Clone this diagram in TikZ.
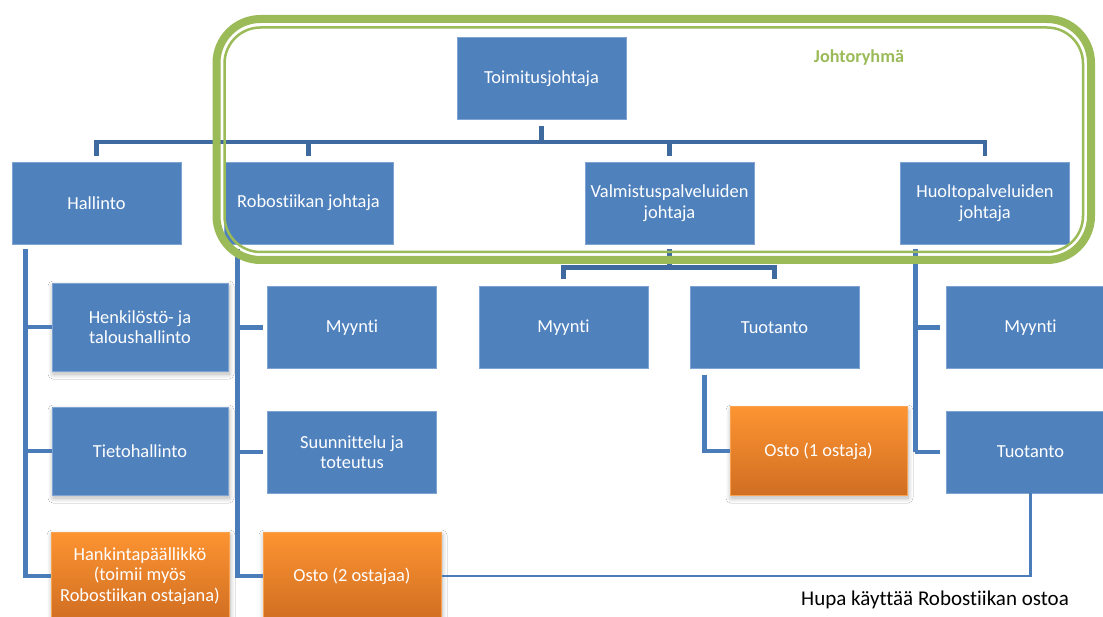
\documentclass[tikz,border=0pt]{standalone}
\usepackage{fontspec}
\setmainfont{Carlito}[Ligatures={NoCommon,NoContextual}]
\usetikzlibrary{shadows.blur}
\definecolor{boxblue}{HTML}{4F81BD}
\definecolor{boxedge}{HTML}{7FA3D2}
\definecolor{barblue}{HTML}{3F6A9F}
\definecolor{lineblue}{HTML}{4A7CB9}
\definecolor{ringgreen}{HTML}{9BBB59}
\definecolor{orangetop}{HTML}{FD9432}
\definecolor{orangebot}{HTML}{D06E22}
\definecolor{orangeedge}{HTML}{F9A24F}
\tikzset{
  boxtext/.style={font=\fontsize{18.4}{20.5}\selectfont, text=white, align=center, inner sep=0pt},
  box/.style={boxtext, fill=boxblue, draw=boxedge, line width=0.8pt,
    minimum width=169, minimum height=82},
  widebox/.style={box, minimum width=176, minimum height=88},
  shadowed/.style={blur shadow={shadow xshift=1pt, shadow yshift=-3pt,
    shadow blur radius=5pt, shadow blur steps=10, shadow opacity=30}},
  obox/.style={boxtext, top color=orangetop, bottom color=orangebot,
    draw=orangeedge, line width=1pt, minimum width=177, minimum height=88, shadowed},
  barline/.style={draw=barblue, line width=4.6pt},
  vline/.style={draw=lineblue, line width=4.8pt},
  thinline/.style={draw=lineblue, line width=2.4pt},
}
\begin{document}
\begin{tikzpicture}[x=1pt, y=-1pt]
\clip (0,0) rectangle (1103,617);
\fill[white] (0,0) rectangle (1103,617);

% top level and managers
\node[box] (toim) at (541.5,78.5) {Toimitusjohtaja};
\node[box] (hal) at (96.5,203) {Hallinto};
\node[box] (rob) at (308.5,203) {Robostiikan johtaja};
\node[box] (val) at (669.5,203) {Valmistuspalveluiden\\johtaja};
\node[box] (huo) at (985,203) {Huoltopalveluiden\\johtaja};

% administration column
\node[widebox, shadowed] (henk) at (140,327) {Henkilöstö- ja\\taloushallinto};
\node[widebox, shadowed] (tieto) at (140,451) {Tietohallinto};
\node[obox, minimum width=178] (hank) at (140,576) {Hankintapäällikkö\\(toimii myös\\Robostiikan ostajana)};

% robotics column
\node[box] (rmy) at (352,327.5) {Myynti};
\node[box] (rsu) at (352,452) {Suunnittelu ja\\toteutus};
\node[obox, minimum width=178] (rost) at (352,576) {Osto (2 ostajaa)};

% manufacturing services
\node[box] (vmy) at (563.5,327.5) {Myynti};
\node[box] (vtu) at (774.5,327.5) {Tuotanto};
\node[obox] (vost) at (818.5,451) {Osto (1 ostaja)};

% maintenance services
\node[box] (hmy) at (1030.5,327.5) {Myynti};
\node[box] (htu) at (1030.5,452) {Tuotanto};

% connectors from the CEO
\coordinate (bar) at ([yshift=-22pt]toim.south);
\draw[barline] ([yshift=-6pt]toim.south) -- (bar);
\draw[barline] ([yshift=6pt]hal.north) |- (bar) -| ([yshift=6pt]huo.north);
\draw[barline] ([yshift=6pt]rob.north) -- (rob.north |- bar);
\draw[barline] ([yshift=6pt]val.north) -- (val.north |- bar);

% manufacturing sub-bar
\coordinate (vbar) at ([yshift=-23pt]val.south);
\draw[barline] ([yshift=-5pt]val.south) -- (vbar);
\draw[barline] ([yshift=7pt]vmy.north) |- (vbar) -| ([yshift=7pt]vtu.north);

% administration line
\coordinate (hl) at ([xshift=14pt, yshift=-5pt]hal.south west);
\draw[vline] (hl) |- (hank.west);
\draw[vline] (hl |- henk.west) -- (henk.west);
\draw[vline] (hl |- tieto.west) -- (tieto.west);

% robotics line
\coordinate (rl) at ([xshift=13.5pt, yshift=-5pt]rob.south west);
\draw[vline] (rl) |- (rost.west);
\draw[vline, shorten >=4.5pt] (rl |- rmy.west) -- (rmy.west);
\draw[vline, shorten >=4.5pt] (rl |- rsu.west) -- (rsu.west);

% maintenance line
\coordinate (ml) at ([xshift=15pt, yshift=-5pt]huo.south west);
\draw[vline] (ml) -- (ml |- htu.west);
\draw[vline, shorten >=6pt] (ml |- hmy.west) -- (hmy.west);
\draw[vline, shorten >=6pt] (ml |- htu.west) -- (htu.west);

% production to purchasing
\draw[vline] ([xshift=15pt, yshift=-6pt]vtu.south west) |- (vost.west);

% shared purchasing
\draw[thinline] (rost.east) -| (htu.south);

% management group frame
\draw[ringgreen, line width=8pt, rounded corners=44pt] (216.5,19) rectangle (1091,260);
\draw[ringgreen, line width=2.5pt, rounded corners=36pt] (224.5,27.5) rectangle (1083,252);
\node[font=\fontsize{18.2}{20}\selectfont\bfseries, text=ringgreen, inner sep=0pt] (jr) at (859,58) {Johtoryhmä};

\node[font=\fontsize{21}{24}\selectfont, anchor=base west, inner sep=0pt] (note) at (801,605) {Hupa käyttää Robostiikan ostoa};
\end{tikzpicture}
\end{document}
